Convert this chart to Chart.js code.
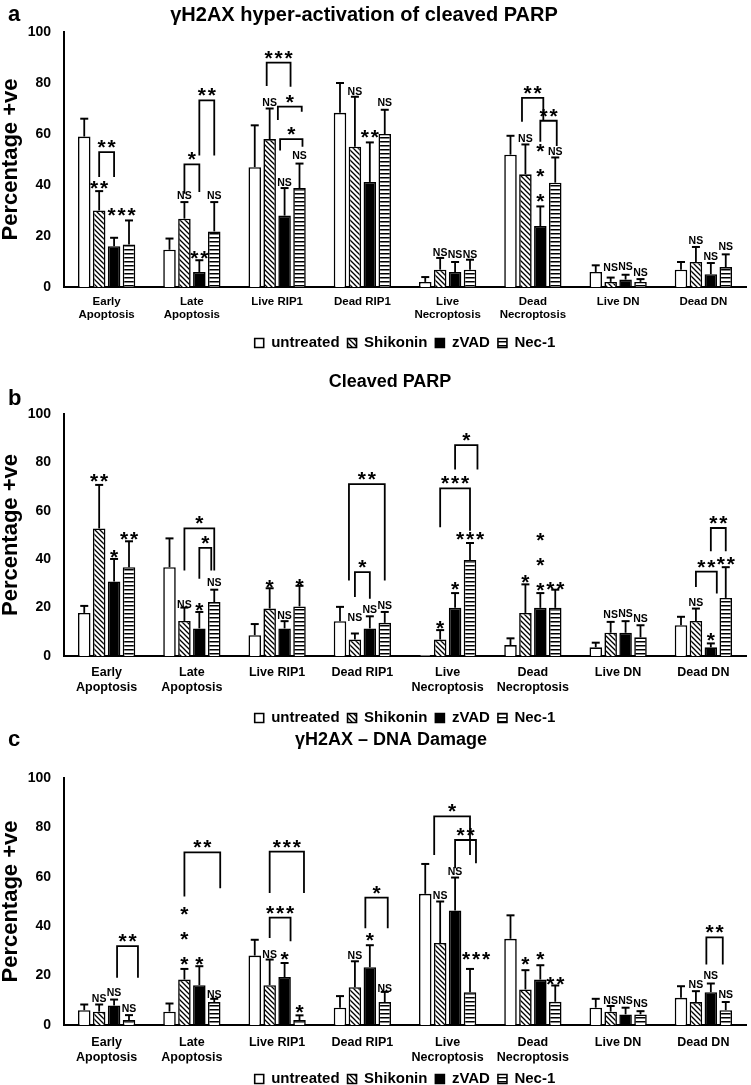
<!DOCTYPE html>
<html>
<head>
<meta charset="utf-8">
<script src="https://cdn.jsdelivr.net/npm/chart.js@4.4.0/dist/chart.umd.min.js"></script>
<style>
  body { margin: 0; background: #fff; width: 751px; height: 1085px; position: relative; overflow: hidden; }
  .panel { position: absolute; left: 0; top: 0; width: 751px; height: 1110px; }
</style>
</head>
<body>
<div class="panel"><canvas id="chartA"></canvas></div>
<div class="panel"><canvas id="chartB"></canvas></div>
<div class="panel"><canvas id="chartC"></canvas></div>
<script>
// categories, series and ticks
var categories = [['Early', 'Apoptosis'], ['Late', 'Apoptosis'], 'Live RIP1', 'Dead RIP1',
                  ['Live', 'Necroptosis'], ['Dead', 'Necroptosis'], 'Live DN', 'Dead DN'];
var treatments = ['untreated', 'Shikonin', 'zVAD', 'Nec-1'];
var yTicks = [0, 20, 40, 60, 80, 100];

// panel a - gH2AX hyper-activation of cleaved PARP (mean, error)
var aUntreated = [59, 14.6, 47, 68.3, 2, 51.9, 5.9, 6.8];
var aShikonin = [30, 26.8, 58, 55, 6.8, 44.2, 2, 9.8];
var aZvad = [16, 5.9, 28, 41.2, 5.9, 23.9, 2.9, 5];
var aNec1 = [16.7, 21.8, 38.8, 60, 6.8, 40.9, 2, 7.8];
var aUntreatedErr = [7, 4.4, 16.4, 11.7, 1.9, 7.4, 2.6, 3];
var aShikoninErr = [7.6, 6.5, 12, 19.6, 4.6, 11.7, 1.7, 5.9];
var aZvadErr = [3.3, 4.6, 10.8, 15.5, 3.9, 7.7, 1.9, 4.4];
var aNec1Err = [9.4, 11.5, 9.6, 9.5, 3.9, 9.9, 1.1, 5];

// panel b - Cleaved PARP
var bUntreated = [17.8, 36.7, 8.6, 14.4, 0.4, 4.5, 3.6, 12.7];
var bShikonin = [52.7, 14.5, 19.6, 6.8, 6.8, 17.8, 9.6, 14.5];
var bZvad = [30.8, 11.4, 11.4, 11.4, 19.9, 19.9, 9.6, 3.6];
var bNec1 = [36.7, 22.3, 20.5, 13.7, 39.7, 19.9, 7.7, 24];
var bUntreatedErr = [2.9, 11.9, 4.6, 5.9, 0, 2.8, 1.9, 3.5];
var bShikoninErr = [18, 5.5, 8.4, 2.5, 3.9, 11.8, 4.5, 5.1];
var bZvadErr = [9.3, 6.8, 3, 5, 6.1, 6.1, 4.8, 1.6];
var bNec1Err = [10.7, 5.1, 8.5, 4.5, 7, 7.5, 5, 12.7];

// panel c - gH2AX DNA damage
var cUntreated = [6, 5.4, 28.1, 7, 53.1, 34.9, 7, 11];
var cShikonin = [5.4, 18.4, 16.1, 15.3, 33.2, 14.4, 5.4, 9.3];
var cZvad = [7.9, 16.1, 19.4, 23.4, 46.4, 18.4, 4.3, 13.3];
var cNec1 = [2, 9.3, 2, 9.3, 13.3, 9.4, 4.3, 6];
var cUntreatedErr = [2.3, 3.3, 6.4, 4.7, 12.1, 9.5, 3.6, 4.7];
var cShikoninErr = [2.9, 4.3, 10.4, 10.5, 16.8, 7.8, 2.3, 4.4];
var cZvadErr = [2.4, 7.7, 5.7, 8.9, 13.3, 5.8, 2.7, 3.5];
var cNec1Err = [2, 1.3, 1.9, 4.1, 9.4, 6.6, 1.3, 3.3];

// significance marks: [category, series, text, value]
var aMarks = [[0,1,'**',39.9],[0,2.5,'***',29.4],[1,1,'NS',35.9],[1,2,'**',12.4],[1,3,'NS',35.9],
  [2,1,'NS',72.5],[2,2,'NS',41.2],[2,3,'NS',51.6],[3,1,'NS',77],[3,2,'**',60],[3,3,'NS',72.5],
  [4,1,'NS',13.7],[4,2,'NS',13.1],[4,3,'NS',13.1],[5,1,'NS',58.5],[5,2,'*',54.7],[5,2,'*',44.7],
  [5,2,'*',35],[5,3,'NS',53.5],[6,1,'NS',7.8],[6,2,'NS',8.2],[6,3,'NS',5.9],
  [7,1,'NS',18.3],[7,2,'NS',12],[7,3,'NS',15.9]];
// brackets: [category, from series, to series, top, left end, right end, text]
var aBrackets = [[0,1,2,52.9,43.1,43.1,'**'],[1,1,2,48.1,36.6,37.3,'*'],[1,2,3,73.2,51.6,51.6,'**'],
  [2,0.8,2.4,88,78.8,78.5,'***'],[2,1.55,3.15,70.7,65.5,68.7,'*'],[2,1.7,3.2,58,53.5,55,'*'],
  [5,0.77,2.2,74.2,64.8,65.2,'**'],[5,2,3.1,65.2,57,55.3,'**']];

var bMarks = [[0,1,'**',73.7],[0,2,'*',42.2],[0,3,'**',49.7],[1,1,'NS',21.6],[1,2,'*',20.3],[1,3,'NS',30.5],
  [2,1,'*',29.9],[2,2,'NS',16.8],[2,3,'*',30],[3,1,'NS',16.2],[3,2,'NS',19.6],[3,3,'NS',21],
  [4,1,'*',12.7],[4,2,'*',28.8],[4,3,'***',49.7],[5,1,'*',31.9],[5,2,'*',49],[5,2,'*',38.8],
  [5,2,'*',28.5],[5,3,'**',28.8],[6,1,'NS',17.3],[6,2,'NS',17.8],[6,3,'NS',15.5],
  [7,1,'NS',22.3],[7,2,'*',7.9],[7,3,'**',39.2]];
var bBrackets = [[1,1,3,52.7,35.3,35.3,'*'],[1,2,2.8,44.7,31.9,35.3,'*'],[3,0.6,3,71,31.2,31.2,'**'],
  [3,1,2,34.7,24.4,23.7,'*'],[4,1,3,69.3,53.2,51.8,'***'],[4,2,3.5,87.1,77.1,77.1,'*'],
  [7,1,2.4,34.9,28.5,25.8,'**'],[7,2,3,52.9,43.3,43.3,'**']];

var cMarks = [[0,1,'NS',11],[0,2,'NS',13.3],[0,3,'NS',6.7],[1,1,'*',46.2],[1,1,'*',35.9],[1,1,'*',26.1],
  [1,2,'*',26.1],[1,3,'NS',12.6],[2,1,'NS',28.8],[2,2,'*',28.1],[2,3,'*',6.6],
  [3,1,'NS',28.5],[3,2,'*',35.5],[3,3,'NS',15.1],[4,1,'NS',52.7],[4,2,'NS',62.4],[4,3.4,'***',27.8],
  [5,1,'*',26.1],[5,2,'*',27.8],[5,3,'**',17.7],[6,1,'NS',10.3],[6,2,'NS',10.3],[6,3,'NS',9],
  [7,1,'NS',16.7],[7,2,'NS',20.2],[7,3,'NS',12.6]];
var cBrackets = [[0,2.2,3.6,31.9,19.1,19.1,'**'],[1,1,3.4,69.9,52,55.4,'**'],[2,1,3.3,70.2,53.4,53.4,'***'],
  [2,1,2.4,43.5,35.2,33.9,'***'],[3,1.7,3.2,51.6,39.2,39.2,'*'],[4,0.6,3,84.5,68.8,68.8,'*'],
  [4,2,3.4,74.9,63.5,65.5,'**'],[7,1.7,2.8,35.5,24.5,24.5,'**']];

var FONT = '"Liberation Sans", Arial, sans-serif';
Chart.defaults.font.family = FONT;
Chart.defaults.color = '#000';

function makePattern(kind) {
  var c = document.createElement('canvas');
  var x = c.getContext('2d');
  if (kind === 'diag') {
    c.width = 5; c.height = 5;
    x.fillStyle = '#fff'; x.fillRect(0, 0, 5, 5);
    x.strokeStyle = '#000'; x.lineWidth = 1.3;
    x.beginPath();
    x.moveTo(-1, -1); x.lineTo(6, 6);
    x.moveTo(-1, 4); x.lineTo(2, 7);
    x.moveTo(4, -1); x.lineTo(7, 2);
    x.stroke();
  } else {
    c.width = 4; c.height = 4;
    x.fillStyle = '#fff'; x.fillRect(0, 0, 4, 4);
    x.fillStyle = '#000'; x.fillRect(0, 1, 4, 1.5);
  }
  return x.createPattern(c, 'repeat');
}
var fills = ['#ffffff', makePattern('diag'), '#000000', makePattern('horiz')];

function seriesX(chart, c, s) {
  var x0 = chart.getDatasetMeta(0).data[c].x;
  var x1 = chart.getDatasetMeta(1).data[c].x;
  return x0 + s * (x1 - x0);
}

function drawSig(ctx, text, x, y) {
  ctx.textAlign = 'center';
  ctx.textBaseline = 'alphabetic';
  if (text.charAt(0) === '*') {
    ctx.font = 'bold 21px ' + FONT;
    var m = ctx.measureText('*');
    var base = y + (m.actualBoundingBoxAscent - m.actualBoundingBoxDescent) / 2;
    var pitch = 10;
    var start = x - (text.length - 1) * pitch / 2;
    for (var k = 0; k < text.length; k++) ctx.fillText('*', start + k * pitch, base);
  } else {
    ctx.font = 'bold 10.5px ' + FONT;
    var m2 = ctx.measureText(text);
    ctx.fillText(text, x, y + (m2.actualBoundingBoxAscent - m2.actualBoundingBoxDescent) / 2);
  }
}

// up-only error bars with caps
var errorBars = {
  id: 'errorBars',
  afterDatasetsDraw: function(chart) {
    var ctx = chart.ctx, y = chart.scales.y;
    ctx.save();
    ctx.strokeStyle = '#000';
    chart.data.datasets.forEach(function(ds, i) {
      chart.getDatasetMeta(i).data.forEach(function(bar, j) {
        var err = ds.errors[j];
        if (!err) return;
        var top = y.getPixelForValue(ds.data[j] + err);
        ctx.lineWidth = 1.8;
        ctx.beginPath(); ctx.moveTo(bar.x, bar.y); ctx.lineTo(bar.x, top); ctx.stroke();
        ctx.lineWidth = 2;
        ctx.beginPath(); ctx.moveTo(bar.x - 4, top); ctx.lineTo(bar.x + 4, top); ctx.stroke();
      });
    });
    ctx.restore();
  }
};

// significance labels and brackets
var sigMarks = {
  id: 'sig',
  afterDatasetsDraw: function(chart, args, opts) {
    var ctx = chart.ctx, y = chart.scales.y;
    ctx.save();
    ctx.fillStyle = '#000';
    ctx.strokeStyle = '#000';
    ctx.lineWidth = 1.8;
    opts.marks.forEach(function(m) {
      drawSig(ctx, m[2], seriesX(chart, m[0], m[1]), y.getPixelForValue(m[3]));
    });
    opts.brackets.forEach(function(b) {
      var x1 = seriesX(chart, b[0], b[1]), x2 = seriesX(chart, b[0], b[2]);
      var yt = y.getPixelForValue(b[3]);
      ctx.beginPath();
      ctx.moveTo(x1, y.getPixelForValue(b[4]));
      ctx.lineTo(x1, yt); ctx.lineTo(x2, yt);
      ctx.lineTo(x2, y.getPixelForValue(b[5]));
      ctx.stroke();
      drawSig(ctx, b[6], (x1 + x2) / 2, yt - 8);
    });
    ctx.restore();
  }
};

// panel letter and title
var header = {
  id: 'header',
  afterDraw: function(chart, args, opts) {
    var ctx = chart.ctx;
    ctx.save();
    ctx.fillStyle = '#000';
    ctx.textBaseline = 'middle';
    ctx.textAlign = 'left';
    ctx.font = 'bold 22px ' + FONT;
    ctx.fillText(opts.letter, 8, opts.letterY);
    ctx.textAlign = 'center';
    ctx.font = 'bold ' + opts.titleSize + 'px ' + FONT;
    ctx.fillText(opts.title, opts.titleX, opts.titleY);
    ctx.restore();
  }
};

function makeChart(id, values, errors, marks, brackets, head, lay) {
  var legendHeight = lay.legendPad + 15 + 10;
  new Chart(document.getElementById(id), {
    type: 'bar',
    data: {
      labels: categories,
      datasets: treatments.map(function(t, i) {
        return {
          label: t, data: values[i], errors: errors[i],
          backgroundColor: fills[i], borderColor: '#000', borderWidth: 1.6,
          categoryPercentage: 0.7, barPercentage: 0.84
        };
      })
    },
    options: {
      responsive: true, maintainAspectRatio: false, animation: false,
      layout: { padding: { top: lay.top, left: 0, right: 5,
                           bottom: 1110 - lay.bottom - lay.xHeight - legendHeight } },
      scales: {
        x: {
          grid: { display: false, drawTicks: false },
          border: { color: '#000', width: 2 },
          ticks: { color: '#000', autoSkip: false, maxRotation: 0, padding: lay.xPad,
                   font: { size: lay.xFont, weight: 'bold', lineHeight: lay.xLine } },
          afterFit: function(scale) { scale.height = lay.xHeight; }
        },
        y: {
          min: 0, max: 100,
          grid: { display: false, drawTicks: false },
          border: { color: '#000', width: 2 },
          afterBuildTicks: function(scale) { scale.ticks = yTicks.map(function(v) { return { value: v }; }); },
          ticks: { color: '#000', padding: 13, font: { size: 14, weight: 'bold' } },
          title: { display: true, text: 'Percentage +ve', color: '#000', padding: 0,
                   font: { size: 22, weight: 'bold', lineHeight: 1 } },
          afterFit: function(scale) { scale.width = 64; }
        }
      },
      plugins: {
        legend: {
          position: 'bottom', fullSize: false,
          labels: { boxWidth: 9, boxHeight: 9, padding: lay.legendPad, color: '#000',
                    font: { size: 15, weight: 'bold' } }
        },
        tooltip: { enabled: false },
        sig: { marks: marks, brackets: brackets },
        header: head
      }
    },
    plugins: [errorBars, sigMarks, header]
  });
}

makeChart('chartA', [aUntreated, aShikonin, aZvad, aNec1],
  [aUntreatedErr, aShikoninErr, aZvadErr, aNec1Err], aMarks, aBrackets,
  { letter: 'a', letterY: 15, title: '\u03b3H2AX hyper-activation of cleaved PARP', titleX: 364, titleY: 15, titleSize: 20 },
  { top: 32, bottom: 287, xPad: 9, xFont: 11.5, xLine: 1.1, xHeight: 40.5, legendPad: 8 });

makeChart('chartB', [bUntreated, bShikonin, bZvad, bNec1],
  [bUntreatedErr, bShikoninErr, bZvadErr, bNec1Err], bMarks, bBrackets,
  { letter: 'b', letterY: 399, title: 'Cleaved PARP', titleX: 390, titleY: 382, titleSize: 18 },
  { top: 414, bottom: 656, xPad: 9.5, xFont: 12.5, xLine: 1.2, xHeight: 46.5, legendPad: 8 });

makeChart('chartC', [cUntreated, cShikonin, cZvad, cNec1],
  [cUntreatedErr, cShikoninErr, cZvadErr, cNec1Err], cMarks, cBrackets,
  { letter: 'c', letterY: 740, title: '\u03b3H2AX \u2013 DNA Damage', titleX: 391, titleY: 740, titleSize: 18 },
  { top: 778, bottom: 1025, xPad: 10.5, xFont: 12.5, xLine: 1.2, xHeight: 38.5, legendPad: 8 });
</script>
</body>
</html>
